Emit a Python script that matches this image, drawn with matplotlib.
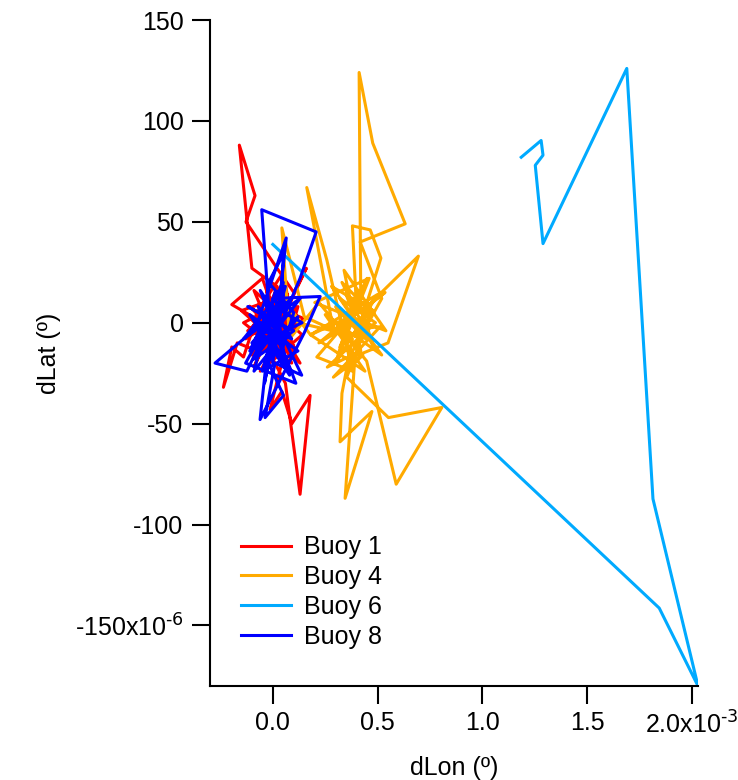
import matplotlib
matplotlib.use("Agg")
import matplotlib.pyplot as plt

plt.rcParams['font.family'] = ['Liberation Sans', 'DejaVu Sans']
plt.rcParams['mathtext.default'] = 'regular'

# dLon in 1e-3 deg, dLat in 1e-6 deg
buoy1_lon = [0.00, 0.05, -0.03, 0.08, -0.06, 0.02, -0.10, -0.16, -0.085, -0.128, 0.02, 0.10, 0.16, 0.06,
             -0.02, 0.09, -0.05, -0.196, -0.08, -0.14, -0.196, -0.236, -0.17, -0.05, 0.04, 0.12, 0.03,
             -0.013, 0.043, 0.091, 0.178, 0.13, 0.06, 0.00, -0.07, 0.05, 0.10, -0.04, 0.02, -0.09, 0.07,
             0.01, -0.03, 0.11, 0.03, 0.10, -0.12, 0.07, -0.15, 0.13, -0.04, 0.15, -0.10, 0.05, -0.13,
             0.11, -0.06, 0.14, -0.09, 0.03, -0.14, 0.09, -0.02, 0.12, -0.08, 0.06, -0.11]
buoy1_lat = [0, 12, 8, -10, -5, 18, 27, 88, 63, 50, 27, 15, 27, 5,
             -12, -20, 22, 9, 2, -17, -12, -32, -10, -15, -2, 8, -25,
             -43, -34, -50, -36, -85, -30, -18, 6, 25, -5, -8, 5, -22, 14,
             -6, 16, -14, 2, -12, -4, 14, 6, -20, 10, 2, -16, 20, -8,
             8, -24, -6, 16, -14, 0, 12, -20, -2, 4, -10, 8]

buoy4_lon = [0.37, 0.30, 0.42, 0.35, 0.46, 0.32, 0.42, 0.412, 0.477, 0.632, 0.417, 0.52, 0.36, 0.55,
             0.695, 0.45, 0.536, 0.29, 0.162, 0.258, 0.38, 0.21, 0.40, 0.380, 0.465, 0.516, 0.41,
             0.512, 0.289, 0.43, 0.39, 0.345, 0.473, 0.321, 0.330, 0.38, 0.15, 0.043, 0.08, 0.22,
             0.448, 0.589, 0.807, 0.552, 0.353, 0.47, 0.33, 0.48, 0.40, 0.30, 0.45, 0.36,
             0.22, 0.48, 0.28, 0.52, 0.25, 0.44, 0.18, 0.50, 0.30, 0.46, 0.20, 0.54, 0.34, 0.42,
             0.26, 0.49, 0.32, 0.45, 0.12, 0.06, 0.18, 0.39]
buoy4_lat = [0, 8, -6, 14, 2, -12, 10, 124, 89, 49, 40, 12, -18, -10,
             33, 8, 15, -4, 67, 31, -24, -17, 6, 48, 46, 32, -3,
             -2, -27, -16, -20, -87, -44, -59, -35, -8, 3, 47, -8, 10,
             -19, -80, -42, -47, -27, 5, 20, -12, 15, -20, 22, 2,
             -10, 6, 18, -16, 4, -24, -6, 14, -20, 22, 10, -4, 26, -14,
             -22, 0, 12, -8, 0, 10, -6, 4]

buoy6_lon = [0.0, 1.845, 2.03, 1.815, 1.69, 1.29, 1.253, 1.29, 1.281, 1.186]
buoy6_lat = [38.8, -141.4, -180, -87.3, 126, 39.2, 78, 83, 90.3, 82]

buoy8_lon = [0.00, 0.06, -0.05, 0.04, 0.10, -0.02, 0.05, 0.03, -0.08, 0.064, 0.00, -0.053, 0.207, 0.13,
             0.02, -0.10, 0.09, -0.276, -0.124, -0.06, 0.00, 0.226, 0.15, -0.061, -0.03, 0.051, -0.037,
             0.01, 0.138, 0.04, -0.11, -0.03, 0.08, -0.07, 0.06, 0.01, -0.09, 0.12, 0.03, -0.02, 0.05,
             -0.04, 0.02, -0.12, 0.10, -0.09, 0.13, -0.14, 0.06, -0.05, 0.12, -0.11, 0.08, -0.03, 0.14,
             -0.10, 0.05, -0.13, 0.11, -0.06, 0.09, -0.08, 0.03]
buoy8_lat = [0, 10, -6, -15, 5, 20, 34, -8, -2, 42, -20, 56, 45, 22,
             -5, -10, 12, -20, -24, -10, 12, 13, -5, -48, -18, -36, -47,
             -20, -26, -5, -14, 4, -12, 8, -22, 15, -24, 3, -10, 6, 20,
             -30, 0, 8, -4, -18, 12, -8, 18, -24, -14, 4, -26, 10, 0,
             -12, 14, -20, -30, 16, -8, -2, -16]

names = ['Buoy 1', 'Buoy 4', 'Buoy 6', 'Buoy 8']
colors = ['#ff0000', '#ffaa00', '#00aaff', '#0000ff']

xticks = [0.0, 0.5, 1.0, 1.5, 2.0]
xlabels = ['0.0', '0.5', '1.0', '1.5', '2.0x10$^{\\text{-3}}$']
yticks = [150, 100, 50, 0, -50, -100, -150]
ylabels = ['150', '100', '50', '0', '-50', '-100', '-150x10$^{\\text{-6}}$']

fig = plt.figure(figsize=(7.38, 7.8), dpi=100)
ax = fig.add_axes([210/738, 94/780, 488/738, 666/780])

series = [(buoy1_lon, buoy1_lat), (buoy4_lon, buoy4_lat), (buoy6_lon, buoy6_lat), (buoy8_lon, buoy8_lat)]
for (lon, lat), name, c in zip(series, names, colors):
    ax.plot(lon, lat, color=c, lw=2.2, label=name)

ax.set_xlim(-0.3, 2.03)
ax.set_ylim(-180, 150)
ax.spines['top'].set_visible(False)
ax.spines['right'].set_visible(False)
for s in ['left', 'bottom']:
    ax.spines[s].set_linewidth(1.5)

ax.set_xticks(xticks)
ax.set_xticklabels(xlabels)
ax.set_yticks(yticks)
ax.set_yticklabels(ylabels)
ax.tick_params(direction='out', length=13, width=1.5, labelsize=18)
ax.tick_params(axis='x', pad=5)
ax.tick_params(axis='y', pad=6)

ax.set_xlabel('dLon (º)', fontsize=18, labelpad=13)
ax.set_ylabel('dLat (º)', fontsize=18, labelpad=10)

ax.legend(loc='upper left', bbox_to_anchor=(0.044, 0.241), frameon=False, fontsize=18,
          handlelength=2.0, handletextpad=0.5, labelspacing=0.23, borderaxespad=0)

fig.savefig('out.png', dpi=100)
